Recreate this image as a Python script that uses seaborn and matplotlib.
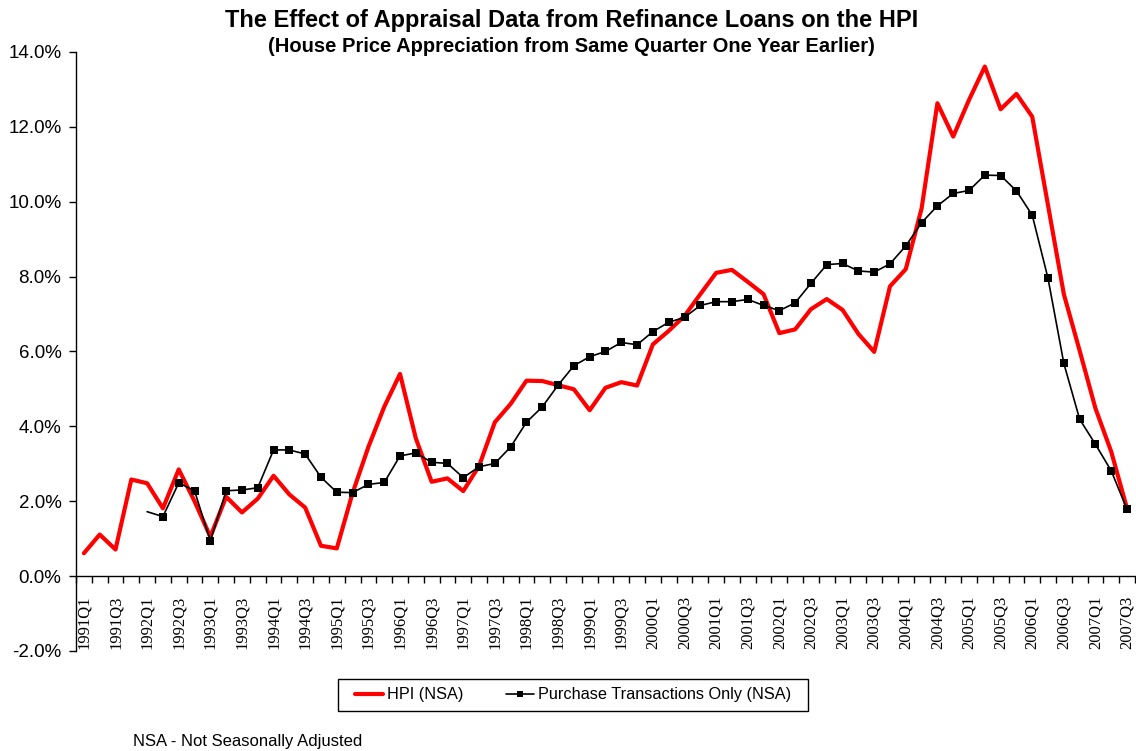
import numpy as np
import pandas as pd
import matplotlib
matplotlib.use("Agg")
import matplotlib.pyplot as plt
import seaborn as sns
from matplotlib.lines import Line2D
from matplotlib.patches import Rectangle
from matplotlib.ticker import FuncFormatter

# quarters 1991Q1 .. 2007Q3
quarters = [f"{y}Q{q}" for y in range(1991, 2008) for q in range(1, 5)][:67]

# HPI (NSA), % change from same quarter one year earlier
hpi_nsa = [
    0.61, 1.11, 0.71, 2.58, 2.48, 1.81, 2.85, 2.00, 1.05, 2.12,
    1.70, 2.07, 2.68, 2.18, 1.83, 0.81, 0.74, 2.22, 3.45, 4.52,
    5.40, 3.68, 2.52, 2.61, 2.27, 2.94, 4.11, 4.60, 5.22, 5.21,
    5.10, 4.99, 4.43, 5.03, 5.18, 5.09, 6.19, 6.55, 6.95, 7.53,
    8.10, 8.18, 7.86, 7.53, 6.49, 6.59, 7.13, 7.40, 7.11, 6.47,
    5.99, 7.74, 8.20, 9.82, 12.63, 11.74, 12.72, 13.61, 12.47, 12.88,
    12.27, 9.90, 7.53, 6.02, 4.48, 3.32, 1.80,
]

# purchase transactions only (NSA), starts in 1992Q1
purchase_nsa = [
    None, None, None, None, 1.72, 1.59, 2.49, 2.28, 0.94, 2.28,
    2.30, 2.36, 3.37, 3.37, 3.26, 2.64, 2.24, 2.23, 2.45, 2.50,
    3.21, 3.29, 3.04, 3.01, 2.63, 2.92, 3.01, 3.45, 4.11, 4.52,
    5.10, 5.62, 5.86, 6.00, 6.24, 6.18, 6.53, 6.78, 6.91, 7.23,
    7.33, 7.33, 7.39, 7.23, 7.09, 7.30, 7.82, 8.32, 8.35, 8.15,
    8.12, 8.34, 8.82, 9.44, 9.89, 10.22, 10.30, 10.71, 10.70, 10.29,
    9.64, 7.95, 5.68, 4.19, 3.52, 2.81, 1.78,
]

df = pd.DataFrame({
    "pos": np.arange(len(quarters)),
    "quarter": quarters,
    "hpi": hpi_nsa,
    "purchase": pd.to_numeric(pd.Series(purchase_nsa), errors="coerce"),
})
df_p = df.dropna(subset=["purchase"])

sns.set_style("white")
plt.rcParams["font.family"] = ["Liberation Sans", "DejaVu Sans"]
plt.rcParams["text.color"] = "black"
plt.rcParams["xtick.color"] = "black"
plt.rcParams["ytick.color"] = "black"
plt.rcParams["axes.labelcolor"] = "black"

fig = plt.figure(figsize=(11.36, 7.51), dpi=100)
ax = fig.add_axes([0.0669, 0.1332, 0.9322, 0.7976])

sns.lineplot(data=df, x="pos", y="hpi", ax=ax, color="#ff0000", linewidth=3.0,
             zorder=2, legend=False)
sns.lineplot(data=df_p, x="pos", y="purchase", ax=ax, color="black", linewidth=1.2,
             marker="s", markersize=5.5, markeredgewidth=0, markevery=slice(1, None),
             zorder=3, legend=False)

ax.set_xlim(-0.5, len(quarters) - 0.5)
ax.set_ylim(-2, 14)
ax.set_yticks(np.arange(-2, 14.1, 2))
ax.yaxis.set_major_formatter(FuncFormatter(lambda v, p: f"{v:.1f}%"))
ax.tick_params(axis="y", direction="out", length=5, width=1, pad=5.5,
               labelsize=13.5, left=True)

# x axis crosses at 0, ticks between categories, labels every 2nd quarter
ax.spines["top"].set_visible(False)
ax.spines["right"].set_visible(False)
ax.spines["bottom"].set_position(("data", 0))
for s in ["left", "bottom"]:
    ax.spines[s].set_color("black")
    ax.spines[s].set_linewidth(1.0)

ax.set_xticks(df["pos"][::2])
ax.set_xticklabels(df["quarter"][::2], rotation=90, family="Liberation Serif",
                   fontsize=12, va="top")
ax.set_xticks(np.arange(-0.5, len(quarters), 1), minor=True)
ax.tick_params(axis="x", which="major", length=0, pad=14, bottom=True)
ax.tick_params(axis="x", which="minor", direction="out", length=5, width=1, bottom=True)
ax.set_xlabel("")
ax.set_ylabel("")
ax.grid(False)

fig.text(0.503, 0.973, "The Effect of Appraisal Data from Refinance Loans on the HPI",
         ha="center", va="center", fontsize=17, fontweight="bold")
fig.text(0.503, 0.938, "(House Price Appreciation from Same Quarter One Year Earlier)",
         ha="center", va="center", fontsize=14.5, fontweight="bold")

# legend without its own frame, box drawn separately (Excel style padding)
handles = [
    Line2D([], [], color="#ff0000", linewidth=3.0),
    Line2D([], [], color="black", linewidth=1.2, marker="s", markersize=4.5,
           markeredgewidth=0),
]
fig.legend(handles, ["HPI (NSA)", "Purchase Transactions Only (NSA)"],
           loc="center", bbox_to_anchor=(0.5044, 0.0746), ncol=2,
           fontsize=11.7, frameon=False, handlelength=1.75, handletextpad=0.25,
           columnspacing=2.6)
fig.patches.append(Rectangle((338 / 1136, 1 - 711 / 751), 470 / 1136, 32 / 751,
                             transform=fig.transFigure, fill=False,
                             edgecolor="black", linewidth=1.0))

fig.text(0.117, 0.012, "NSA - Not Seasonally Adjusted", ha="left", va="center",
         fontsize=12)

fig.savefig("out.png", dpi=100)
